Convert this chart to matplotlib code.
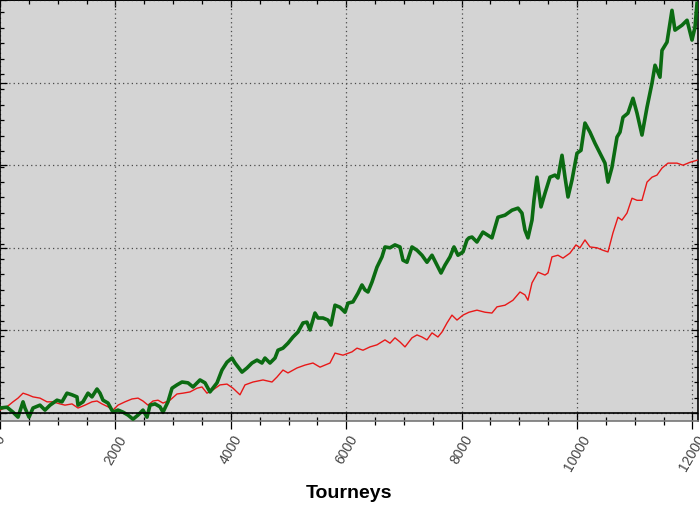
#!/usr/bin/env python
import sys
import matplotlib
matplotlib.use('Agg')
import matplotlib.pyplot as plt
from matplotlib.ticker import MultipleLocator

green_tourneys = [
    0, 120, 225, 312, 399, 433, 503, 572, 693, 780, 867, 988, 1074, 1161,
    1248, 1334, 1352, 1438, 1525, 1594, 1681, 1733, 1785, 1872, 1958, 2045,
    2132, 2218, 2305, 2392, 2478, 2548, 2600, 2686, 2773, 2825, 2911, 2981,
    3067, 3154, 3258, 3345, 3466, 3553, 3639, 3761, 3847, 3934, 4021, 4073,
    4194, 4281, 4367, 4454, 4540, 4592, 4679, 4766, 4818, 4904, 4991, 5078,
    5164, 5251, 5320, 5372, 5459, 5511, 5598, 5684, 5736, 5806, 5892, 5979,
    6031, 6117, 6204, 6273, 6325, 6377, 6447, 6533, 6620, 6672, 6759, 6845,
    6932, 6984, 7053, 7140, 7227, 7313, 7400, 7487, 7573, 7643, 7712, 7799,
    7868, 7937, 8024, 8093, 8128, 8180, 8266, 8370, 8526, 8630, 8752, 8873,
    8977, 9046, 9098, 9150, 9220, 9254, 9306, 9376, 9445, 9532, 9618, 9670,
    9740, 9792, 9844, 9913, 10000, 10069, 10138, 10225, 10312, 10398, 10485,
    10537, 10606, 10693, 10745, 10797, 10883, 10970, 11040, 11126, 11213,
    11300, 11352, 11438, 11473, 11560, 11612, 11646, 11698, 11820, 11907,
    11993, 12045, 12080]
green_profit = [
    60, 70, 10, -50, 135, 60, -50, 60, 95, 35, 95, 155, 135, 240,
    220, 195, 95, 135, 240, 195, 290, 240, 155, 120, 10, 35,
    10, -25, -75, -25, 35, -50, 95, 110, 75, 10, 135, 300,
    340, 375, 365, 315, 400, 365, 255, 365, 520, 615, 665, 605,
    495, 545, 605, 640, 605, 665, 605, 665, 760, 785, 845, 920,
    980, 1090, 1100, 1005, 1210, 1150, 1150, 1125, 1065, 1305, 1280, 1220,
    1330, 1345, 1450, 1550, 1490, 1465, 1585, 1765, 1890, 2010, 2000, 2035,
    2010, 1850, 1825, 2010, 1970, 1910, 1825, 1910, 1790, 1695, 1790, 1890,
    2010, 1910, 1950, 2095, 2120, 2130, 2070, 2190, 2120, 2370, 2395, 2455,
    2480, 2420, 2215, 2120, 2335, 2575, 2855, 2495, 2660, 2855, 2880, 2845,
    3120, 2855, 2615, 2820, 3145, 3180, 3510, 3400, 3265, 3145, 3025,
    2795, 2975, 3340, 3400, 3580, 3630, 3810, 3630, 3365, 3700,
    3995, 4210, 4065, 4390, 4490, 4720, 4875, 4635, 4695, 4755,
    4515, 4670, 4960]

red_tourneys = [
    0, 120, 225, 312, 399, 485, 572, 693, 815, 918, 1040, 1126, 1248, 1352,
    1473, 1594, 1681, 1768, 1872, 1958, 2045, 2166, 2288, 2392, 2478, 2565,
    2652, 2738, 2825, 2946, 3067, 3171, 3293, 3414, 3501, 3587, 3691, 3813,
    3934, 4038, 4159, 4246, 4385, 4558, 4714, 4800, 4904, 4991, 5147, 5286,
    5424, 5546, 5719, 5806, 5944, 6100, 6187, 6291, 6412, 6533, 6672, 6759,
    6845, 6932, 7019, 7140, 7227, 7313, 7400, 7487, 7590, 7660, 7747, 7833,
    7920, 8024, 8128, 8266, 8405, 8526, 8613, 8752, 8890, 9012, 9098, 9150,
    9220, 9324, 9445, 9497, 9566, 9670, 9757, 9878, 9982, 10051, 10138,
    10225, 10346, 10450, 10537, 10623, 10710, 10779, 10866, 10953, 11040,
    11126, 11213, 11300, 11386, 11473, 11577, 11733, 11837, 11958, 12080]
red_profit = [
    35, 75, 135, 180, 240, 220, 195, 180, 135, 135, 110, 95, 110, 60,
    95, 135, 145, 110, 75, 35, 95, 135, 170, 180, 145, 95,
    145, 155, 120, 155, 230, 240, 255, 300, 315, 240, 280, 340,
    350, 300, 220, 340, 375, 400, 375, 435, 520, 485, 545, 580,
    605, 555, 605, 725, 700, 740, 785, 760, 800, 825, 885, 845,
    910, 860, 800, 910, 945, 920, 885, 970, 920, 980, 1090, 1185,
    1125, 1185, 1220, 1245, 1220, 1210, 1285, 1305, 1365, 1465, 1430, 1365,
    1575, 1705, 1670, 1695, 1890, 1910, 1875, 1935, 2035, 2000, 2095,
    2010, 2000, 1970, 1950, 2180, 2370, 2335, 2420, 2600, 2575,
    2575, 2795, 2855, 2880, 2965, 3025, 3025, 3000, 3035, 3060]

x_major = [0, 2000, 4000, 6000, 8000, 10000, 12000]
x_labels = ['0', '2000', '4000', '6000', '8000', '10000', '12000']


def create_figure(outfile):
    plt.rcParams['font.family'] = ['Liberation Sans', 'DejaVu Sans']

    W, H = 700.0, 515.0
    fig = plt.figure(figsize=(W / 100, H / 100), dpi=100)
    # plot area: px 0..698 wide, 0..421 high (figure is a crop)
    ax = fig.add_axes([0.0, (H - 421) / H, 698 / W, 421 / H])
    ax.set_facecolor('#d4d4d4')

    ax.plot(red_tourneys, red_profit, color='#e81818', lw=1.0, zorder=3)
    ax.plot(green_tourneys, green_profit, color='#0b6b12', lw=2.6,
            solid_joinstyle='round', zorder=4)
    ax.axhline(0, color='black', lw=1.2, zorder=5)

    ax.set_xlim(0, 12097)
    ax.set_ylim(-97, 5000)

    ax.set_xticks(x_major)
    ax.set_xticklabels(x_labels, rotation=60, ha='center', va='top',
                       color='#444444', fontsize=10)
    ax.xaxis.set_minor_locator(MultipleLocator(500))
    ax.yaxis.set_major_locator(MultipleLocator(1000))
    ax.yaxis.set_minor_locator(MultipleLocator(186.5))

    ax.tick_params(axis='x', which='major', direction='inout', length=11.5,
                   width=0.9, pad=3, top=False)
    ax.tick_params(axis='x', which='minor', direction='inout', length=5.5,
                   width=0.9, top=False)
    ax.tick_params(axis='y', which='major', direction='in', length=5,
                   width=0.9, left=True, right=True, labelleft=False)
    ax.tick_params(axis='y', which='minor', direction='in', length=3,
                   width=0.9, left=True, right=True)

    top = ax.secondary_xaxis('top')
    top.set_xticks(x_major)
    top.xaxis.set_minor_locator(MultipleLocator(500))
    top.tick_params(which='major', direction='in', length=5, width=0.9,
                    labeltop=False)
    top.tick_params(which='minor', direction='in', length=3, width=0.9)
    top.spines['top'].set_linewidth(1.2)

    ax.grid(True, which='major', color='#4a4a4a', lw=0.9,
            linestyle=(0, (1, 2.5)))
    ax.set_axisbelow(True)

    ax.spines['bottom'].set_color('#777777')
    ax.spines['bottom'].set_linewidth(1.2)
    for side in ('left', 'right', 'top'):
        ax.spines[side].set_color('black')
        ax.spines[side].set_linewidth(1.2)

    fig.text(349.5 / W, 1 - 493 / H, 'Tourneys', ha='center', va='center',
             fontsize=14, fontweight='bold')

    fig.savefig(outfile, dpi=100)


def main(argv=None):
    create_figure('out.png')

if __name__ == "__main__":
    sys.exit(main())
